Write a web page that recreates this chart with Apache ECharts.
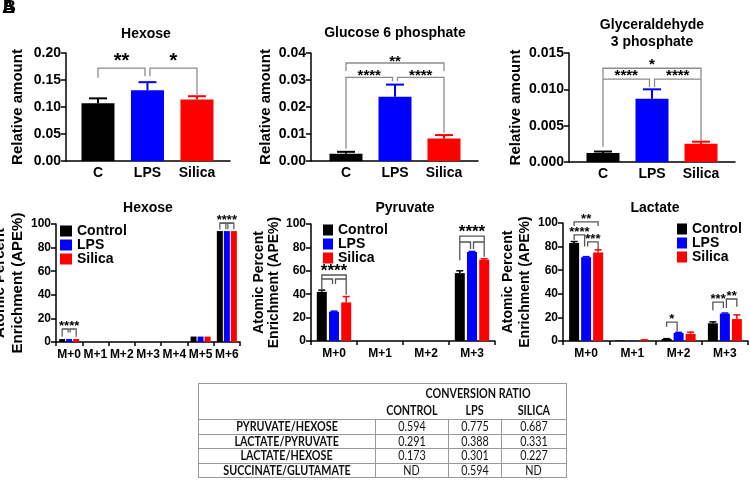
<!DOCTYPE html>
<html><head><meta charset="utf-8">
<script src="https://cdn.jsdelivr.net/npm/echarts@6/dist/echarts.min.js"></script>
<style>
html,body{margin:0;padding:0;background:#fff;}
#chart{position:absolute;left:0;top:0;width:750px;height:483px;}
#tbl{position:absolute;left:198px;top:383px;border-collapse:collapse;table-layout:fixed;width:368px;
 font-family:'Lato',sans-serif;font-size:12.5px;color:#111;border:1.5px solid #999;}
#tbl td{padding:0;text-align:center;white-space:nowrap;overflow:hidden;line-height:13px;}
#tbl td span{display:inline-block;transform:scaleX(0.86);transform-origin:center;}
#tbl tr.h1 td{height:18px;font-weight:bold;}
#tbl tr.h2 td{height:17px;font-weight:bold;border-bottom:1px solid #999;}
#tbl tr.d td{height:13.5px;border:1px solid #999;}
#tbl tr.d td.lab{font-weight:bold;}
</style></head><body>
<div id="chart"></div>
<table id="tbl"></table>
<script>
// ---------- DATA ----------
const topCategories = ['C', 'LPS', 'Silica'];
const hexoseRelMean = [0.107, 0.131, 0.114];
const hexoseRelSem  = [0.009, 0.015, 0.006];
const g6pRelMean = [0.0027, 0.0238, 0.0083];
const g6pRelSem  = [0.0007, 0.0045, 0.0013];
const g3pRelMean = [0.00124, 0.0087, 0.0025];
const g3pRelSem  = [0.0002, 0.0013, 0.0003];

const groupNames = ['Control', 'LPS', 'Silica'];

const hexoseIsotopologues = ['M+0', 'M+1', 'M+2', 'M+3', 'M+4', 'M+5', 'M+6'];
const hexoseApeControl = [2.5, 0, 0, 0, 0, 4.6, 94];
const hexoseApeLPS     = [2.5, 0, 0, 0, 0, 4.6, 94];
const hexoseApeSilica  = [2.5, 0, 0, 0, 0, 4.6, 94];

const pyruvateIsotopologues = ['M+0', 'M+1', 'M+2', 'M+3'];
const pyruvateApeControl = [42, 0, 0, 58];
const pyruvateErrControl = [1.5, 0, 0, 2];
const pyruvateApeLPS     = [25, 0, 0, 76];
const pyruvateErrLPS     = [0.5, 0, 0, 0.5];
const pyruvateApeSilica  = [33, 0, 0, 69.5];
const pyruvateErrSilica  = [5, 0, 0, 0.8];

const lactateIsotopologues = ['M+0', 'M+1', 'M+2', 'M+3'];
const lactateApeControl = [83, 0.5, 1.7, 15];
const lactateErrControl = [1.3, 0, 0.3, 1.2];
const lactateApeLPS     = [71, 0.3, 6.8, 23.2];
const lactateErrLPS     = [0.5, 0, 0.5, 0.5];
const lactateApeSilica  = [75, 0.8, 6, 18.6];
const lactateErrSilica  = [2.3, 0.2, 1.5, 3.5];

// significance brackets: [catFrom, groupFrom, catTo, groupTo, level, leftEnd, rightEnd, label]
const hexoseRelBrackets = [[0,0,1,0, 0.172, 0.154, 0.157, '**'], [1,0,2,0, 0.172, 0.157, 0.121, '*']];
const g6pRelBrackets = [[0,0,2,0, 0.0363, 0.0333, 0.0333, '**'], [0,0,1,0, 0.031, 0.0045, 0.0295, '****'], [1,0,2,0, 0.031, 0.0295, 0.0105, '****']];
const g3pRelBrackets = [[0,0,2,0, 0.0129, 0.0115, 0.0115, '*'], [0,0,1,0, 0.0114, 0.0021, 0.0103, '****'], [1,0,2,0, 0.0114, 0.0103, 0.0029, '****']];
const hexoseApeBrackets = [[0,0,0,2, 11, 4.5, 4.5, '****'], [0,0,0,1, 11, 11, 8, ''], [0,1,0,2, 11, 8, 11, ''],
  [6,0,6,2, 100.8, 95.5, 95.5, '****'], [6,0,6,1, 100.8, 100.8, 95.5, ''], [6,1,6,2, 100.8, 95.5, 100.8, '']];
const pyruvateApeBrackets = [[0,0,0,2, 56.4, 44.5, 39.5, '****'], [0,0,0,1, 53, 53, 48.7, ''], [0,1,0,2, 53, 48.7, 53, ''],
  [3,0,3,2, 89.7, 69, 72, '****'], [3,0,3,1, 84.6, 84.6, 78.6, ''], [3,1,3,2, 84.6, 78.6, 84.6, '']];
const lactateApeBrackets = [[0,0,0,2, 101, 97.5, 97.5, '**'], [0,0,0,1, 90, 85.6, 80, '****'], [0,1,0,2, 84, 80, 78, '***'],
  [2,0,2,1, 16, 12, 8, '*'], [3,0,3,1, 33, 26, 28, '***'], [3,1,3,2, 35.6, 28, 29, '**']];

const tableTitle = 'CONVERSION RATIO';
const tableHeader = ['CONTROL', 'LPS', 'SILICA'];
const tableRowLabels = ['PYRUVATE/HEXOSE', 'LACTATE/PYRUVATE', 'LACTATE/HEXOSE', 'SUCCINATE/GLUTAMATE'];
const ratioControl = ['0.594', '0.291', '0.173', 'ND'];
const ratioLPS     = ['0.775', '0.388', '0.301', '0.594'];
const ratioSilica  = ['0.687', '0.331', '0.227', 'ND'];

// ---------- STYLE ----------
const FONT = "'Liberation Sans', Arial, sans-serif";
const groupColors = ['#000000', '#0000ff', '#ff0000'];

function bracketSeries(list, idx, L) {
  return {
    type: 'custom', xAxisIndex: idx, yAxisIndex: idx, silent: true, clip: false, z: 5,
    data: list.map(b => [b[0], b[4]]),
    encode: { x: 0, y: 1 },
    renderItem: function (params, api) {
      const b = list[params.dataIndex];
      const step = L.barWidth * (1 + L.gap);
      const px = (c, s) => api.coord([c, 0])[0] + (s - (L.n - 1) / 2) * step;
      const isMid = (c, s) => L.n === 1 ? c === 1 : s === 1;
      let xL = px(b[0], b[1]), xR = px(b[2], b[3]);
      if (isMid(b[0], b[1])) xL += L.shift;
      if (isMid(b[2], b[3])) xR -= L.shift;
      const yLev = api.coord([b[0], b[4]])[1];
      const yL = api.coord([b[0], b[5]])[1];
      const yR = api.coord([b[0], b[6]])[1];
      const children = [{
        type: 'polyline',
        shape: { points: [[xL, yL], [xL, yLev], [xR, yLev], [xR, yR]] },
        style: { stroke: L.color, lineWidth: L.lineWidth, fill: null }
      }];
      if (b[7]) children.push({
        type: 'text', x: (xL + xR) / 2, y: yLev - L.labelGap,
        style: { text: b[7], fill: '#000', fontSize: L.fontSize, fontWeight: 'bold', fontFamily: FONT,
                 align: 'center', verticalAlign: 'middle' }
      });
      return { type: 'group', children: children };
    }
  };
}

function errorSeries(means, errs, idx, L, groupIdx, colors) {
  return {
    type: 'custom', xAxisIndex: idx, yAxisIndex: idx, silent: true, z: 3,
    data: means.map((m, i) => [i, m, m + errs[i]]),
    encode: { x: 0, y: [1, 2] },
    renderItem: function (params, api) {
      const i = api.value(0);
      if (api.value(2) <= api.value(1)) return null;
      const step = L.barWidth * (1 + L.gap);
      const x = api.coord([i, 0])[0] + (groupIdx - (L.n - 1) / 2) * step;
      const y1 = api.coord([i, api.value(1)])[1];
      const y2 = api.coord([i, api.value(2)])[1];
      const col = colors[i];
      const st = { stroke: col, lineWidth: L.errWidth };
      return { type: 'group', children: [
        { type: 'line', shape: { x1: x, y1: y1, x2: x, y2: y2 }, style: st },
        { type: 'line', shape: { x1: x - L.cap / 2, y1: y2, x2: x + L.cap / 2, y2: y2 }, style: st }
      ]};
    }
  };
}

const axisLineStyle = { color: '#000', width: 1.5 };
function yAxisDef(idx, max, interval, dec, name, nameGap, nameSize, nameLH, labelSize) {
  return {
    type: 'value', gridIndex: idx, min: 0, max: max, interval: interval,
    axisLine: { show: true, onZero: false, lineStyle: axisLineStyle },
    axisTick: { show: true, length: 5, lineStyle: axisLineStyle },
    splitLine: { show: false },
    axisLabel: { color: '#000', fontWeight: 'bold', fontSize: labelSize, fontFamily: FONT, margin: 5,
                 formatter: v => dec === null ? String(v) : v.toFixed(dec) },
    name: name, nameLocation: 'middle', nameGap: nameGap, nameRotate: 90,
    nameTextStyle: { color: '#000', fontWeight: 'bold', fontSize: nameSize, fontFamily: FONT, lineHeight: nameLH }
  };
}
// top panels: numeric x positions so the group spacing and side margins follow the figure
function xAxisTop(idx, min, max) {
  return {
    type: 'value', gridIndex: idx, min: min, max: max,
    axisLine: { show: true, onZero: true, lineStyle: axisLineStyle },
    axisTick: { show: false },
    splitLine: { show: false },
    axisLabel: { color: '#000', fontWeight: 'bold', fontSize: 14, fontFamily: FONT, margin: 5,
                 customValues: topCategories.map((c, i) => i),
                 formatter: v => topCategories[Math.round(v)] }
  };
}
function xAxisDef(idx, cats, fontSize, margin) {
  return {
    type: 'category', gridIndex: idx, data: cats,
    axisLine: { show: true, lineStyle: axisLineStyle },
    axisTick: { show: true, length: 4, alignWithLabel: false, lineStyle: axisLineStyle },
    splitLine: { show: false },
    axisLabel: { color: '#000', fontWeight: 'bold', fontSize: fontSize, fontFamily: FONT, margin: margin, interval: 0 }
  };
}

const topL = [
  { n: 1, barWidth: 33, gap: 0, shift: 2.5, color: '#8c8c8c', lineWidth: 1.3, fontSize: 20, labelGap: 7, errWidth: 2, cap: 18 },
  { n: 1, barWidth: 33, gap: 0, shift: 2.5, color: '#8c8c8c', lineWidth: 1.3, fontSize: 15, labelGap: 1.5, errWidth: 2, cap: 18 },
  { n: 1, barWidth: 33, gap: 0, shift: 2.5, color: '#8c8c8c', lineWidth: 1.3, fontSize: 15, labelGap: 3.5, errWidth: 2, cap: 18 }
];
const botL = [
  { n: 3, barWidth: 6, gap: 0.17, shift: 1, color: '#555', lineWidth: 1.2, fontSize: 13, labelGap: 3, errWidth: 1.3, cap: 6 },
  { n: 3, barWidth: 10, gap: 0.22, shift: 1.5, color: '#555', lineWidth: 1.3, fontSize: 17, labelGap: 4, errWidth: 1.5, cap: 7 },
  { n: 3, barWidth: 10, gap: 0.2, shift: 1.5, color: '#555', lineWidth: 1.3, fontSize: 13, labelGap: 2.5, errWidth: 1.5, cap: 7 }
];

function topBar(means, idx) {
  return { type: 'bar', xAxisIndex: idx, yAxisIndex: idx, barWidth: 33, silent: true,
    data: means.map((v, i) => ({ value: [i, v], itemStyle: { color: groupColors[i] } })) };
}
function groupBars(idx, arrays, L) {
  return arrays.map((arr, g) => ({
    type: 'bar', name: groupNames[g], xAxisIndex: idx, yAxisIndex: idx, barWidth: L.barWidth,
    barGap: (L.gap * 100) + '%', silent: true, itemStyle: { color: groupColors[g] }, data: arr
  }));
}
function legendDef(left, top, iw, ih) {
  return { show: true, orient: 'vertical', left: left, top: top, itemWidth: iw, itemHeight: ih, itemGap: 0,
    icon: 'rect', selectedMode: false, padding: 0, data: groupNames,
    itemStyle: { borderWidth: 0 },
    textStyle: { color: '#000', fontWeight: 'bold', fontSize: 14, fontFamily: FONT, lineHeight: 14 } };
}
function titleText(x, y, text) {
  return { type: 'text', x: x, y: y, silent: true,
    style: { text: text, fill: '#000', fontSize: 14, fontWeight: 'bold', fontFamily: FONT,
             align: 'center', verticalAlign: 'middle', lineHeight: 17 } };
}

const grids = [
  { left: 66, top: 53, width: 164, height: 108 },
  { left: 311, top: 53, width: 167, height: 108 },
  { left: 569, top: 53, width: 166, height: 109 },
  { left: 56, top: 224, width: 184, height: 118 },
  { left: 311, top: 224, width: 184, height: 117 },
  { left: 563, top: 223, width: 185, height: 118 }
].map(g => Object.assign({ outerBoundsMode: 'none', containLabel: false, show: false }, g));

const option = {
  animation: false,
  backgroundColor: '#fff',
  grid: grids,
  xAxis: [
    xAxisTop(0, -0.646, 2.667),
    xAxisTop(1, -0.714, 2.694),
    xAxisTop(2, -0.694, 2.694),
    xAxisDef(3, hexoseIsotopologues, 12, 7),
    xAxisDef(4, pyruvateIsotopologues, 12, 7),
    xAxisDef(5, lactateIsotopologues, 12, 7)
  ],
  yAxis: [
    yAxisDef(0, 0.20, 0.05, 2, 'Relative amount', 39, 15, 18, 14),
    yAxisDef(1, 0.04, 0.01, 2, 'Relative amount', 35, 15, 18, 14),
    yAxisDef(2, 0.015, 0.005, 3, 'Relative amount', 44, 15, 18, 14),
    yAxisDef(3, 100, 20, null, 'Atomic Percent\nEnrichment (APE%)', 21, 15, 18, 12),
    yAxisDef(4, 100, 20, null, 'Atomic Percent\nEnrichment (APE%)', 26, 14, 15, 12),
    yAxisDef(5, 100, 20, null, 'Atomic Percent\nEnrichment (APE%)', 19, 14, 17, 12)
  ],
  legend: [legendDef(60, 224, 12, 11), legendDef(323, 223, 10, 11), legendDef(677, 222, 10, 11)],
  graphic: [
    titleText(146, 34, 'Hexose'),
    titleText(395, 33, 'Glucose 6 phosphate'),
    titleText(652, 34, 'Glyceraldehyde\n3 phosphate'),
    titleText(148, 208, 'Hexose'),
    titleText(405, 208, 'Pyruvate'),
    titleText(655, 208, 'Lactate'),
    { type: 'text', x: 2, y: -1, silent: true, style: { text: 'A', fill: '#000', fontSize: 18, fontWeight: 'bold', fontFamily: FONT } },
    { type: 'text', x: 3, y: -1, silent: true, style: { text: 'B', fill: '#000', fontSize: 18, fontWeight: 'bold', fontFamily: FONT } }
  ],
  series: [].concat(
    [topBar(hexoseRelMean, 0), errorSeries(hexoseRelMean, hexoseRelSem, 0, topL[0], 0, groupColors), bracketSeries(hexoseRelBrackets, 0, topL[0])],
    [topBar(g6pRelMean, 1), errorSeries(g6pRelMean, g6pRelSem, 1, topL[1], 0, groupColors), bracketSeries(g6pRelBrackets, 1, topL[1])],
    [topBar(g3pRelMean, 2), errorSeries(g3pRelMean, g3pRelSem, 2, topL[2], 0, groupColors), bracketSeries(g3pRelBrackets, 2, topL[2])],
    groupBars(3, [hexoseApeControl, hexoseApeLPS, hexoseApeSilica], botL[0]),
    [bracketSeries(hexoseApeBrackets, 3, botL[0])],
    groupBars(4, [pyruvateApeControl, pyruvateApeLPS, pyruvateApeSilica], botL[1]),
    [errorSeries(pyruvateApeControl, pyruvateErrControl, 4, botL[1], 0, pyruvateApeControl.map(() => groupColors[0])),
     errorSeries(pyruvateApeLPS, pyruvateErrLPS, 4, botL[1], 1, pyruvateApeLPS.map(() => groupColors[1])),
     errorSeries(pyruvateApeSilica, pyruvateErrSilica, 4, botL[1], 2, pyruvateApeSilica.map(() => groupColors[2])),
     bracketSeries(pyruvateApeBrackets, 4, botL[1])],
    groupBars(5, [lactateApeControl, lactateApeLPS, lactateApeSilica], botL[2]),
    [errorSeries(lactateApeControl, lactateErrControl, 5, botL[2], 0, lactateApeControl.map(() => groupColors[0])),
     errorSeries(lactateApeLPS, lactateErrLPS, 5, botL[2], 1, lactateApeLPS.map(() => groupColors[1])),
     errorSeries(lactateApeSilica, lactateErrSilica, 5, botL[2], 2, lactateApeSilica.map(() => groupColors[2])),
     bracketSeries(lactateApeBrackets, 5, botL[2])]
  )
};

const chart = echarts.init(document.getElementById('chart'), null, { renderer: 'canvas' });
chart.setOption(option);

// ---------- TABLE ----------
const tbl = document.getElementById('tbl');
const cell = (t, cls) => '<td' + (cls ? ' class="' + cls + '"' : '') + '><span>' + t + '</span></td>';
let html = '<colgroup><col style="width:177px"><col style="width:73px"><col style="width:53px"><col style="width:65px"></colgroup>';
html += '<tr class="h1"><td></td><td colspan="3" style="padding-left:14px"><span>' + tableTitle + '</span></td></tr>';
html += '<tr class="h2"><td></td>' + tableHeader.map(h => cell(h)).join('') + '</tr>';
tableRowLabels.forEach((lab, i) => {
  html += '<tr class="d">' + cell(lab, 'lab') + cell(ratioControl[i]) + cell(ratioLPS[i]) + cell(ratioSilica[i]) + '</tr>';
});
tbl.innerHTML = html;
</script>
</body></html>
